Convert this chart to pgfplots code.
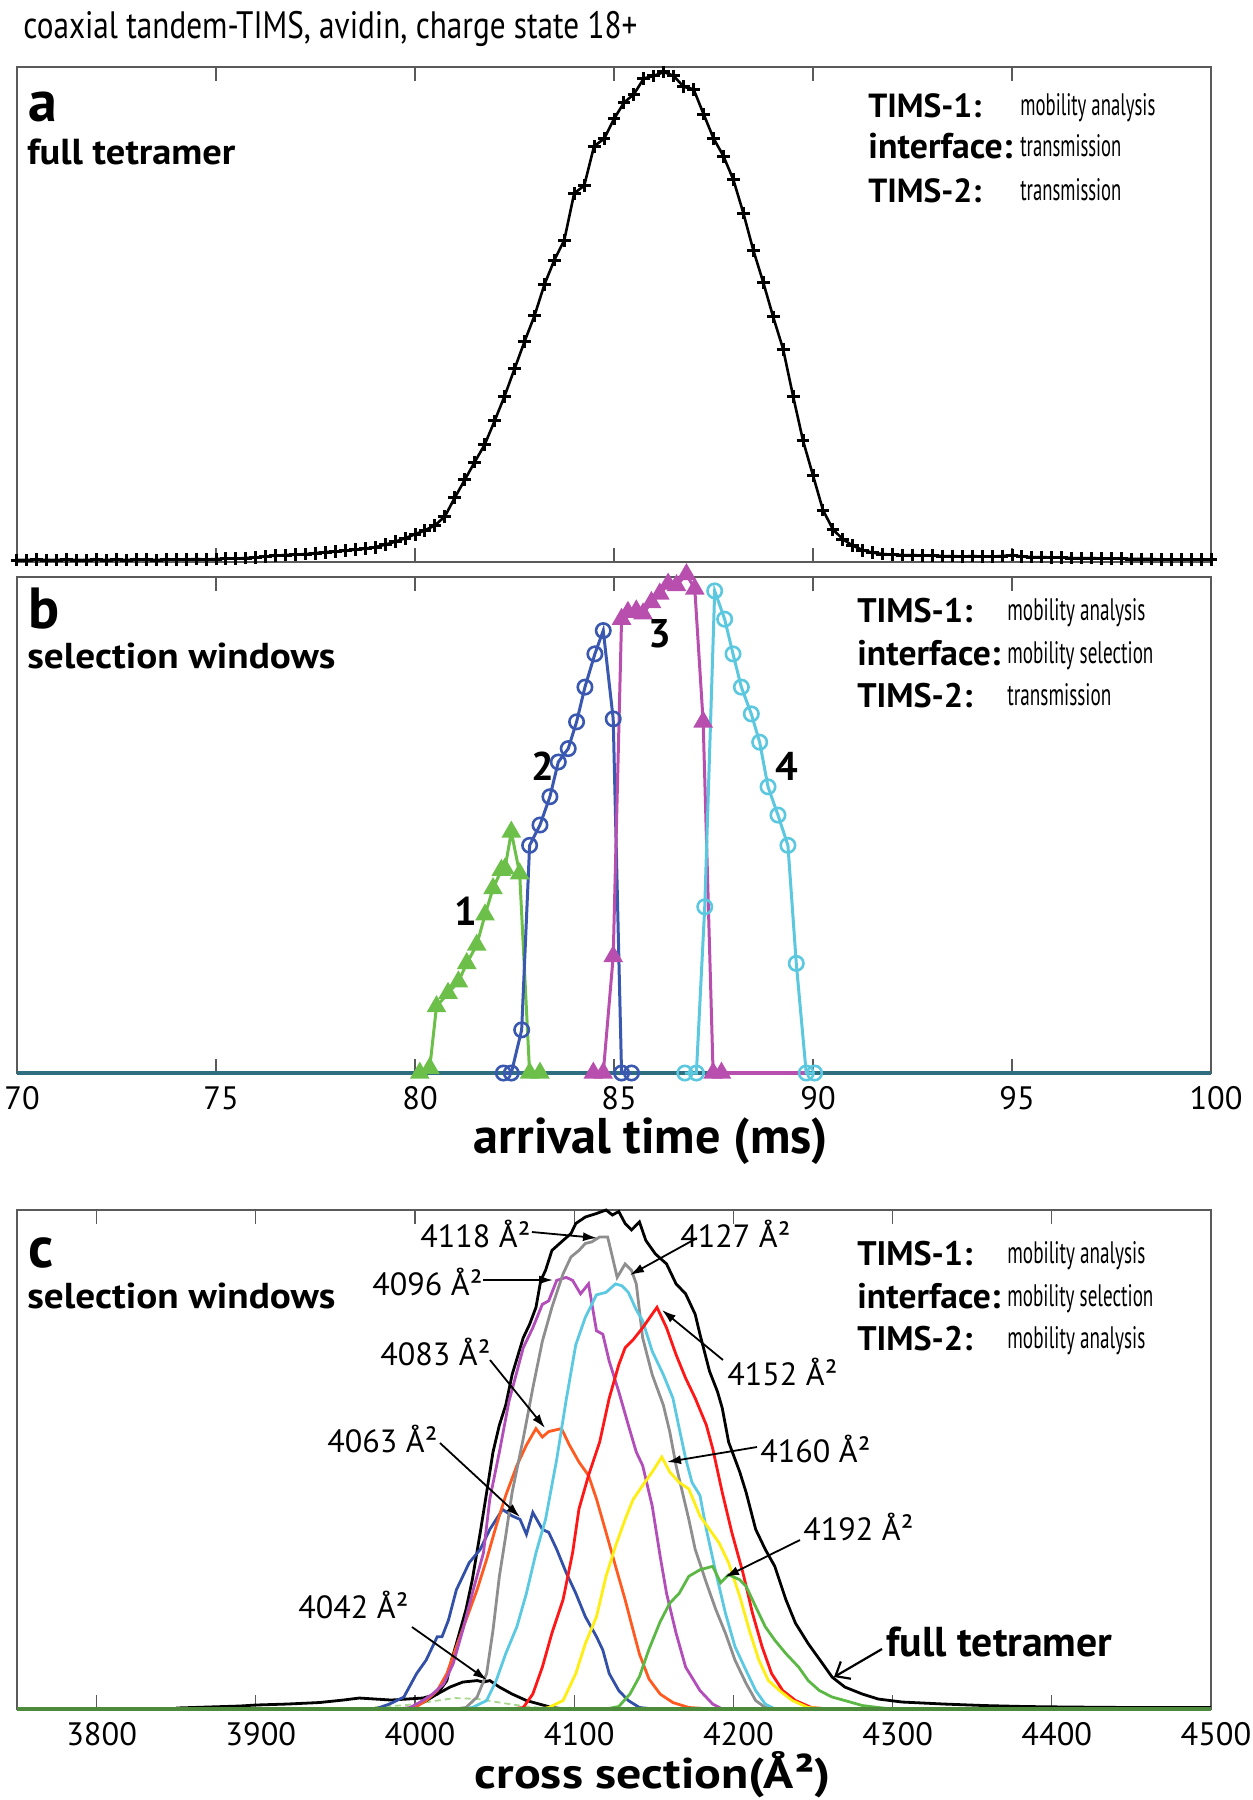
\documentclass[border=0pt]{standalone}
\usepackage{fontspec}
\setmainfont{PT Sans}
\usepackage{graphicx}
\usepackage{pgfplots}
\usepackage{pgfplotstable}
\pgfplotsset{compat=1.18}
\usetikzlibrary{arrows.meta}

\definecolor{axgray}{HTML}{5A5A5A}
\definecolor{bgreen}{HTML}{6CC04A}
\definecolor{bblue}{HTML}{3A58B0}
\definecolor{bmag}{HTML}{B84FAE}
\definecolor{bcyan}{HTML}{5BC8DF}
\definecolor{bteal}{HTML}{2E6E7E}
\definecolor{cblue}{HTML}{3350A8}
\definecolor{corange}{HTML}{FF5A1F}
\definecolor{cmag}{HTML}{B24DBA}
\definecolor{cgrey}{HTML}{8E8E8E}
\definecolor{ccyan}{HTML}{5CC9E2}
\definecolor{cred}{HTML}{FF1616}
\definecolor{cyellow}{HTML}{FFEE11}
\definecolor{cgreen}{HTML}{5CB845}
\definecolor{cbase}{HTML}{4E8A3C}
\definecolor{lgreen}{HTML}{A8D890}

\newcommand{\fitw}[2]{\resizebox{#1}{!}{#2}}
\newcommand{\fitwh}[3]{\resizebox{#1}{#2}{#3}}

\pgfplotstableread{
x y
70.00 .004
70.25 .004
70.50 .005
70.75 .004
71.00 .004
71.25 .005
71.50 .004
71.75 .004
72.00 .005
72.25 .004
72.50 .005
72.75 .004
73.00 .005
73.25 .005
73.50 .004
73.75 .005
74.00 .005
74.25 .005
74.50 .006
74.75 .005
75.00 .006
75.25 .007
75.50 .007
75.75 .008
76.00 .009
76.25 .011
76.50 .013
76.75 .014
77.00 .015
77.25 .016
77.50 .018
77.75 .020
78.00 .021
78.25 .023
78.50 .025
78.75 .027
79.00 .030
79.25 .035
79.50 .041
79.75 .048
80.00 .056
80.25 .064
80.50 .074
80.75 .092
81.00 .130
81.25 .166
81.50 .202
81.75 .237
82.00 .285
82.25 .335
82.50 .390
82.75 .445
83.00 .497
83.25 .560
83.50 .610
83.75 .650
84.00 .745
84.25 .760
84.50 .840
84.75 .855
85.00 .895
85.25 .928
85.50 .945
85.75 .977
86.00 .982
86.25 .990
86.50 .982
86.75 .960
87.00 .955
87.25 .905
87.50 .856
87.75 .820
88.00 .772
88.25 .705
88.50 .630
88.75 .565
89.00 .495
89.25 .430
89.50 .335
89.75 .245
90.00 .175
90.25 .105
90.50 .066
90.75 .046
91.00 .033
91.25 .024
91.50 .019
91.75 .016
92.00 .015
92.25 .014
92.50 .014
92.75 .013
93.00 .013
93.25 .012
93.50 .012
93.75 .011
94.00 .012
94.25 .011
94.50 .011
94.75 .012
95.00 .014
95.25 .011
95.50 .010
95.75 .010
96.00 .009
96.25 .009
96.50 .008
96.75 .008
97.00 .008
97.25 .007
97.50 .007
97.75 .007
98.00 .006
98.25 .006
98.50 .006
98.75 .005
99.00 .005
99.25 .005
99.50 .005
99.75 .005
100.0 .005
}\fulltable

\pgfplotsset{
  panel/.style={
    scale only axis, width=597pt,
    ymin=0, ymax=1, ytick=\empty,
    axis line style={axgray, line width=1pt},
    tick style={axgray, line width=0.6pt},
    major tick length=7pt,
    clip=false,
    xticklabel style={font=\fontsize{16.2}{16}\selectfont, anchor=base, inner sep=0.5pt, yshift=-18pt, xshift=2.5pt},
    /pgf/number format/assume math mode=true,
    /pgf/number format/1000 sep={},
    scaled x ticks=false,
  },
}
\tikzset{lab/.style={anchor=base west, inner sep=0pt}}

\begin{document}
\begin{tikzpicture}
\useasboundingbox (0pt,0pt) rectangle (626.5pt,-900pt);

% ---------------- panel a
\begin{axis}[panel, at={(8.5pt,-281pt)}, anchor=south west, height=247.5pt,
  xmin=70, xmax=100, xtick={75,80,85,90,95}, xticklabels={}]
\addplot[black, line width=1.3pt, mark=+, mark size=3.2pt, mark options={line width=1.5pt}] table[x=x,y=y] {\fulltable};
\end{axis}

% ---------------- panel b
\begin{axis}[panel, at={(8.5pt,-536.5pt)}, anchor=south west, height=248pt,
  xmin=70, xmax=100, xtick={70,75,...,100}]
\addplot[bteal, line width=1.8pt] coordinates {(70,0) (100,0)};
\addplot[bmag, line width=1.8pt] coordinates {(87.49,0) (89.8,0)};
\addplot[bgreen, line width=1.5pt, mark=triangle*, mark size=4.2pt] coordinates {
(80.12,0) (80.37,0.01) (80.54,0.134) (80.83,0.161) (81.09,0.184) (81.30,0.221)
(81.55,0.258) (81.76,0.319) (81.96,0.372) (82.17,0.409) (82.26,0.412) (82.42,0.486)
(82.63,0.402) (82.88,0) (83.14,0)};
\addplot[bblue, line width=1.5pt, mark=o, mark size=3.6pt, mark options={line width=1.3pt}] coordinates {
(82.22,0) (82.42,0) (82.68,0.087) (82.88,0.459) (83.14,0.500) (83.39,0.557)
(83.60,0.627) (83.85,0.654) (84.06,0.708) (84.27,0.778) (84.52,0.845) (84.73,0.892)
(84.98,0.714) (85.19,0) (85.44,0)};
\addplot[bmag, line width=1.5pt, mark=triangle*, mark size=4.2pt] coordinates {
(84.48,0) (84.73,0) (84.98,0.235) (85.19,0.915) (85.35,0.929) (85.56,0.932)
(85.73,0.926) (85.94,0.949) (86.15,0.966) (86.36,0.986) (86.57,0.983) (86.82,1.005)
(87.03,0.976) (87.24,0.708) (87.49,0) (87.70,0)};
\addplot[bcyan, line width=1.5pt, mark=o, mark size=3.6pt, mark options={line width=1.3pt}] coordinates {
(86.78,0) (87.07,0) (87.28,0.335) (87.53,0.972) (87.78,0.915) (87.99,0.845)
(88.20,0.778) (88.45,0.724) (88.66,0.667) (88.87,0.577) (89.12,0.520) (89.37,0.459)
(89.58,0.221) (89.83,0) (90.04,0)};
\end{axis}

% ---------------- panel c
\begin{axis}[panel, at={(8.5pt,-854.5pt)}, anchor=south west, height=249.5pt,
  xmin=3750, xmax=4500, xtick={3800,3900,...,4500}]
\addplot[lgreen, densely dashed, line width=0.9pt] coordinates {
(3975,0.004) (3995,0.008) (4010,0.015) (4025,0.022) (4040,0.02) (4055,0.012) (4070,0.005) (4080,0.002)};
\addplot[black, line width=1.4pt] coordinates {
(3850,.002) (3870,.004) (3890,.006) (3900,.008) (3920,.010) (3940,.013) (3955,.018)
(3965,.022) (3975,.020) (3985,.018) (3995,.020) (4005,.022) (4014,.030) (4020,.057)
(4023,.098) (4026,.131) (4032,.199) (4036,.259) (4041,.354) (4045,.434) (4049,.515)
(4053,.569) (4057,.609) (4061,.670) (4068,.744) (4072,.771) (4076,.805) (4079,.859)
(4082,.879) (4086,.919) (4093,.939) (4098,.953) (4101,.973) (4107,.986) (4114,.993)
(4120,1.0) (4124,.99) (4128,.997) (4132,.973) (4136,.96) (4141,.976) (4145,.939)
(4151,.912) (4158,.892) (4164,.852) (4170,.832) (4176,.791) (4179,.751) (4185,.677)
(4190,.636) (4193,.603) (4197,.535) (4204,.475) (4208,.434) (4214,.360) (4220,.320)
(4226,.286) (4233,.219) (4239,.172) (4247,.131) (4256,.091) (4262,.064) (4270,.044)
(4281,.030) (4291,.020) (4306,.014) (4332,.010) (4357,.007) (4383,.005) (4410,.004)
(4450,.003) (4500,.003)};
\addplot[black, line width=1.4pt] coordinates {
(3995,0) (4005,.013) (4014,.030) (4022,.044) (4030,.054) (4039,.057) (4043,.054)
(4047,.057) (4053,.044) (4061,.030) (4070,.017) (4078,.010) (4086,.003) (4095,0)};
\addplot[cblue, line width=1.4pt] coordinates {
(3975,0) (3984,.01) (3993,.024) (4001,.071) (4007,.098) (4014,.145) (4017,.145)
(4021,.178) (4026,.239) (4029,.259) (4034,.293) (4041,.320) (4047,.360) (4055,.400)
(4061,.387) (4066,.380) (4070,.350) (4074,.394) (4080,.360) (4084,.354) (4089,.320)
(4095,.273) (4101,.232) (4107,.185) (4114,.145) (4118,.118) (4122,.071) (4128,.037)
(4134,.017) (4141,.003) (4150,0)};
\addplot[corange, line width=1.4pt] coordinates {
(3995,0) (4001,.005) (4007,.017) (4014,.037) (4020,.071) (4026,.125) (4032,.178)
(4039,.239) (4045,.300) (4051,.367) (4057,.428) (4064,.488) (4070,.529) (4076,.562)
(4080,.545) (4084,.556) (4092,.562) (4097,.529) (4103,.495) (4109,.468) (4114,.421)
(4120,.354) (4126,.286) (4132,.219) (4136,.17) (4141,.11) (4147,.06) (4154,.03)
(4162,.013) (4172,.003) (4187,0)};
\addplot[cmag, line width=1.4pt] coordinates {
(3990,0) (3997,.003) (4005,.017) (4011,.030) (4018,.050) (4024,.091) (4030,.158)
(4036,.232) (4043,.313) (4047,.421) (4053,.515) (4059,.616) (4068,.724) (4074,.764)
(4080,.811) (4084,.818) (4089,.859) (4095,.865) (4099,.859) (4104,.832) (4109,.852)
(4114,.758) (4118,.751) (4122,.697) (4128,.636) (4134,.569) (4139,.515) (4143,.488)
(4149,.407) (4154,.306) (4158,.232) (4164,.152) (4170,.084) (4179,.037) (4187,.010)
(4193,0)};
\addplot[cgrey, line width=1.4pt] coordinates {
(4025,0) (4032,.003) (4039,.024) (4045,.071) (4049,.158) (4053,.266) (4057,.347)
(4061,.434) (4068,.542) (4074,.643) (4080,.737) (4086,.805) (4093,.872) (4098,.906)
(4103,.919) (4107,.933) (4111,.936) (4116,.946) (4121,.946) (4124,.906) (4127,.865)
(4132,.892) (4136,.879) (4139,.852) (4143,.744) (4149,.670) (4156,.609) (4160,.556)
(4164,.488) (4168,.434) (4172,.380) (4176,.320) (4183,.253) (4189,.199) (4195,.152)
(4201,.098) (4208,.051) (4214,.017) (4220,.003) (4230,0)};
\addplot[ccyan, line width=1.4pt] coordinates {
(4030,0) (4036,.003) (4045,.017) (4051,.057) (4057,.111) (4064,.165) (4070,.232)
(4076,.313) (4082,.380) (4089,.50) (4095,.62) (4101,.73) (4107,.785) (4114,.83)
(4120,.835) (4126,.852) (4130,.848) (4134,.835) (4139,.80) (4143,.778) (4149,.717)
(4156,.670) (4162,.623) (4166,.562) (4170,.502) (4174,.454) (4179,.428) (4183,.360)
(4189,.273) (4195,.192) (4201,.125) (4208,.077) (4214,.037) (4220,.010) (4226,0)};
\addplot[cred, line width=1.4pt] coordinates {
(4060,0) (4068,.003) (4074,.030) (4080,.084) (4086,.152) (4093,.219) (4099,.313)
(4103,.401) (4109,.468) (4116,.535) (4122,.623) (4128,.690) (4132,.724) (4137,.74)
(4143,.764) (4152,.805) (4158,.764) (4164,.710) (4170,.663) (4176,.623) (4183,.569)
(4187,.522) (4193,.434) (4199,.354) (4206,.273) (4212,.192) (4218,.125) (4224,.071)
(4231,.037) (4239,.017) (4249,.003) (4260,0)};
\addplot[cyellow, line width=1.4pt] coordinates {
(4078,0) (4084,.003) (4093,.017) (4101,.071) (4107,.131) (4114,.185) (4120,.266)
(4126,.327) (4132,.380) (4137,.42) (4143,.448) (4149,.475) (4155,.505) (4160,.475)
(4166,.454) (4172,.441) (4179,.387) (4185,.360) (4191,.333) (4197,.293) (4204,.226)
(4210,.158) (4216,.098) (4222,.057) (4229,.037) (4237,.017) (4247,.003) (4260,0)};
\addplot[cgreen, line width=1.4pt] coordinates {
(4120,0) (4128,.005) (4135,.03) (4141,.065) (4147,.12) (4154,.175) (4160,.212)
(4166,.232) (4172,.266) (4179,.279) (4187,.286) (4192,.253) (4197,.269) (4204,.259)
(4208,.246) (4214,.205) (4220,.165) (4226,.138) (4233,.111) (4241,.084) (4247,.057)
(4254,.037) (4262,.024) (4270,.017) (4281,.007) (4291,.003) (4300,0)};
\addplot[cbase, line width=1.8pt] coordinates {(3750,0) (4500,0)};
\end{axis}

% ---------------- texts (pixel coordinates, y downward)
\begin{scope}[x=0.5pt, y=-0.5pt]
\node[lab] at (23,38) {\fitwh{307pt}{13.6pt}{coaxial tandem-TIMS, avidin, charge state 18+}};

\node[lab] at (28,121) {\fontsize{29}{29}\selectfont\bfseries a};
\node[lab] at (27,164) {\fitwh{104pt}{12.8pt}{\bfseries full tetramer}};
\node[lab] at (28,628) {\fontsize{29}{29}\selectfont\bfseries b};
\node[lab] at (27,668) {\fitwh{154pt}{12.8pt}{\bfseries selection windows}};
\node[lab] at (28,1267) {\fontsize{29}{29}\selectfont\bfseries c};
\node[lab] at (27,1308) {\fitwh{154pt}{12.8pt}{\bfseries selection windows}};

% legend a
\node[lab] at (868,117) {\fitw{56.5pt}{\bfseries TIMS-1:}};
\node[lab] at (868,158) {\fitw{72pt}{\bfseries interface:}};
\node[lab] at (868,202) {\fitw{56.5pt}{\bfseries TIMS-2:}};
\node[lab] at (1020,115) {\fitwh{67.5pt}{11pt}{mobility analysis}};
\node[lab] at (1020,156) {\fitwh{50.5pt}{11pt}{transmission}};
\node[lab] at (1020,200) {\fitwh{50.5pt}{11pt}{transmission}};
% legend b
\node[lab] at (857,622) {\fitw{57.5pt}{\bfseries TIMS-1:}};
\node[lab] at (857,665) {\fitw{71.5pt}{\bfseries interface:}};
\node[lab] at (857,707) {\fitw{57.5pt}{\bfseries TIMS-2:}};
\node[lab] at (1007,620) {\fitwh{69pt}{11pt}{mobility analysis}};
\node[lab] at (1007,663) {\fitwh{73pt}{11pt}{mobility selection}};
\node[lab] at (1007,705) {\fitwh{52pt}{11pt}{transmission}};
% legend c
\node[lab] at (857,1265) {\fitw{57.5pt}{\bfseries TIMS-1:}};
\node[lab] at (857,1308) {\fitw{71.5pt}{\bfseries interface:}};
\node[lab] at (857,1350) {\fitw{57.5pt}{\bfseries TIMS-2:}};
\node[lab] at (1007,1263) {\fitwh{69pt}{11pt}{mobility analysis}};
\node[lab] at (1007,1306) {\fitwh{73pt}{11pt}{mobility selection}};
\node[lab] at (1007,1348) {\fitwh{69pt}{11pt}{mobility analysis}};

% numbers b
\foreach \t/\x/\y in {1/466/911, 2/543/766, 3/660/634, 4/787/766}
  \node[inner sep=0pt] at (\x,\y) {\fontsize{20}{20}\selectfont\bfseries \t};

% axis labels
\node[anchor=base, inner sep=0pt] at (651,1153) {\fitw{177pt}{\bfseries arrival time (ms)}};
\node[anchor=base, inner sep=0pt] at (653,1788) {\fitwh{178pt}{18.5pt}{\bfseries cross section(Å²)}};

% annotations c
\foreach \t/\x/\y in {4118/420/1247, 4096/372/1295, 4083/380/1365, 4063/327/1452, 4042/298/1618,
  4127/680/1247, 4152/727/1385, 4160/760/1462, 4192/803/1540}
  \node[lab] at (\x,\y) {\fitw{55pt}{\t\ Å²}};
\node[lab] at (886,1656) {\fitw{113pt}{\bfseries full tetramer}};

\begin{scope}[line width=0.9pt, -{Latex[length=7pt,width=4.5pt]}]
\draw (532,1232) -- (597,1238);
\draw (483,1280) -- (553,1280);
\draw (490,1360) -- (545,1428);
\draw (440,1443) -- (520,1517);
\draw (412,1627) -- (487,1680);
\draw (697,1238) -- (630,1275);
\draw (723,1360) -- (662,1310);
\draw (757,1447) -- (667,1462);
\draw (800,1540) -- (725,1577);
\end{scope}
\draw[line width=1.1pt, -{Straight Barb[length=6pt,width=10pt]}] (882,1649) -- (834,1677);
\end{scope}
\end{tikzpicture}
\end{document}
